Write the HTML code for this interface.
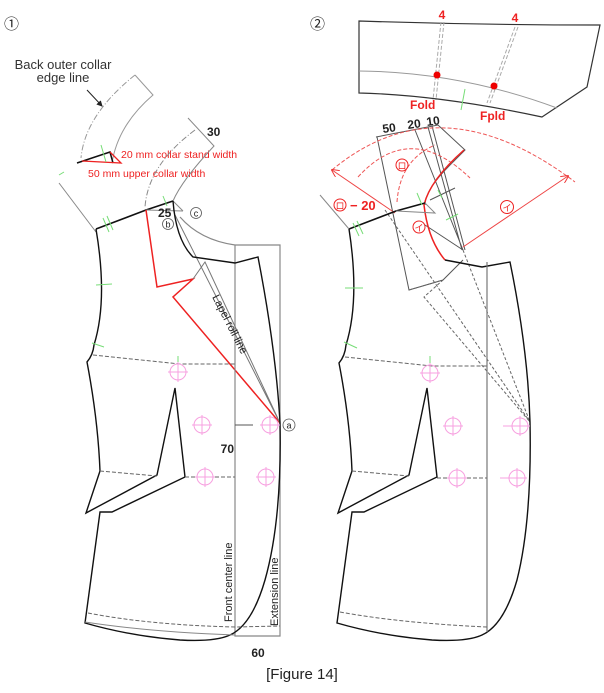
<!DOCTYPE html>
<html><head><meta charset="utf-8"><style>
html,body{margin:0;padding:0;background:#fff;}
svg{display:block;font-family:"Liberation Sans","Noto Sans CJK JP",sans-serif;}
</style></head><body>
<svg width="604" height="693" viewBox="0 0 604 693" xmlns="http://www.w3.org/2000/svg">
<defs>
<marker id="ah" markerWidth="8" markerHeight="8" refX="7" refY="4" orient="auto"><path d="M0,0 L8,4 L0,8" fill="none" stroke="#e33" stroke-width="1"/></marker>
<marker id="ab" markerWidth="6" markerHeight="6" refX="5" refY="3" orient="auto"><path d="M0,0 L6,3 L0,6z" fill="#222"/></marker>
<g id="btn"><circle r="8" fill="none" stroke="#f7a0e0" stroke-width="1"/><path d="M-10,0H10M0,-10V10" stroke="#f7a0e0" stroke-width="1"/></g>
</defs>
<!-- ===== FIGURE 1 ===== -->
<text x="4" y="29" font-size="15" fill="#222">①</text>
<text x="63" y="69" font-size="13" fill="#333" text-anchor="middle">Back outer collar</text>
<text x="63" y="82" font-size="13" fill="#333" text-anchor="middle">edge line</text>
<path d="M87,90 L102,106" stroke="#222" stroke-width="1" marker-end="url(#ab)"/>
<!-- back collar -->
<path d="M135,75 L153,95 Q118,125 112,163" fill="none" stroke="#999" stroke-width="1"/>
<path d="M135,75 Q85,115 81,158" fill="none" stroke="#999" stroke-width="1" stroke-dasharray="6,2,1,2"/>
<path d="M77,163 L110,152 L113,163" fill="none" stroke="#111" stroke-width="1.5"/>
<path d="M82,161 L121,163 L110,152" fill="none" stroke="#e22" stroke-width="1.3"/>
<text x="121" y="158" font-size="10.5" fill="#e22">20 mm collar stand width</text>
<text x="88" y="177" font-size="10.5" fill="#e22">50 mm upper collar width</text>
<path d="M101,145 L106,162" stroke="#7d7" stroke-width="1"/>
<path d="M59,175 L64,172" stroke="#7d7" stroke-width="1"/>
<path d="M59,183 L96,232" stroke="#888" stroke-width="1"/>
<!-- front collar / lapel -->
<path d="M188,118 L214,146 Q182,180 173,201" fill="none" stroke="#888" stroke-width="1"/>
<path d="M195,130 Q148,165 145,207" fill="none" stroke="#888" stroke-width="1" stroke-dasharray="6,2,1,2"/>
<text x="207" y="136" font-size="12" font-weight="bold" fill="#222">30</text>
<path d="M96,229 L146,210 L173,201" fill="none" stroke="#111" stroke-width="1.6"/>
<path d="M146,210 L183,211 M173,201 L183,211" fill="none" stroke="#888" stroke-width="1"/>
<path d="M103,218 L109,232 M107,216 L113,230" stroke="#7d7" stroke-width="1"/>
<path d="M163,196 L167,206" stroke="#7d7" stroke-width="1"/>
<text x="158" y="217" font-size="12" font-weight="bold" fill="#222">25</text>
<circle cx="168" cy="224" r="5.5" fill="#fff" stroke="#555" stroke-width="0.8"/><text x="168" y="227.5" font-size="9" text-anchor="middle" fill="#222">b</text>
<circle cx="196" cy="213" r="5.5" fill="#fff" stroke="#555" stroke-width="0.8"/><text x="196" y="216.5" font-size="9" text-anchor="middle" fill="#222">c</text>
<path d="M146,210 L157,287 L193,279 L173,297 L280,423" fill="none" stroke="#e22" stroke-width="1.5"/>
<path d="M180,217 Q200,240 235,245 L280,245 L280,636 L235,636 L235,245" fill="none" stroke="#888" stroke-width="1.2"/>
<path d="M175,215 L280,423 M193,279 L205,262 L280,423" fill="none" stroke="#777" stroke-width="1"/>
<text transform="translate(212,297) rotate(63)" font-size="11" fill="#222">Lapel roll line</text>
<!-- body -->
<path d="M173,201 Q176,240 193,257 L235,263 L258,257 Q276,350 280,423 Q282,520 265,580 Q252,625 230,635 Q215,642 180,640 Q130,636 85,623 L100,512 L112,512 L185,477 L175,388 L157,475 L86,513 L100,471 Q98,420 87,362 Q93,355 94,345 Q108,300 96,229" fill="none" stroke="#111" stroke-width="1.4"/>
<path d="M93,355 L180,364 L235,364 M100,471 L157,476 M185,477 L235,477 M88,613 Q150,625 235,627 L280,626" fill="none" stroke="#666" stroke-width="1" stroke-dasharray="4,2"/>
<path d="M85,622 Q150,632 235,635" fill="none" stroke="#888" stroke-width="1"/>
<path d="M96,285 L112,284 M92,343 L104,347 M178,356 L178,372" stroke="#7d7" stroke-width="1"/>
<use href="#btn" x="178" y="372"/><use href="#btn" x="202" y="425"/><use href="#btn" x="270" y="425"/><use href="#btn" x="205" y="477"/><use href="#btn" x="266" y="477"/>
<path d="M235,425 L253,425" stroke="#555" stroke-width="1"/>
<text x="234" y="453" font-size="12" font-weight="bold" fill="#222" text-anchor="end">70</text>
<circle cx="289" cy="425" r="6" fill="#fff" stroke="#555" stroke-width="0.8"/><text x="289" y="428.5" font-size="9" text-anchor="middle" fill="#222">a</text>
<text x="258" y="657" font-size="12" font-weight="bold" fill="#222" text-anchor="middle">60</text>
<text transform="translate(232,622) rotate(-90)" font-size="11" fill="#222">Front center line</text>
<text transform="translate(278,626) rotate(-90)" font-size="11" fill="#222">Extension line</text>

<!-- ===== FIGURE 2 ===== -->
<text x="310" y="29" font-size="15" fill="#222">②</text>
<path d="M359,21 Q480,25 600,25 L587,87 L542,117 Q440,95 359,93 Z" fill="none" stroke="#333" stroke-width="1.2"/>
<path d="M359,71 Q460,72 557,108" fill="none" stroke="#999" stroke-width="1"/>
<path d="M441,22 L433,100 M444,22 L436,100 M515,27 L487,103 M518,27 L490,103" stroke="#aaa" stroke-width="1" stroke-dasharray="4,2"/>
<circle cx="437" cy="75" r="3.5" fill="#e00"/><circle cx="494" cy="86" r="3.5" fill="#e00"/>
<text x="442" y="19" font-size="12" font-weight="bold" fill="#e22" text-anchor="middle">4</text>
<text x="515" y="22" font-size="12" font-weight="bold" fill="#e22" text-anchor="middle">4</text>
<text x="410" y="109" font-size="12" font-weight="bold" fill="#e22">Fold</text>
<text x="480" y="120" font-size="12" font-weight="bold" fill="#e22">Fpld</text>
<path d="M465,89 L461,110" stroke="#7d7" stroke-width="1"/>
<text x="383" y="133" font-size="12" font-weight="bold" fill="#222" transform="rotate(-8 383 133)">50</text>
<text x="408" y="129" font-size="12" font-weight="bold" fill="#222" transform="rotate(-8 408 129)">20</text>
<text x="427" y="126" font-size="12" font-weight="bold" fill="#222" transform="rotate(-8 427 126)">10</text>
<!-- collar construction lines -->
<path d="M376,137 L438,125 L465,150 L450,165 Q425,190 425,205" fill="none" stroke="#555" stroke-width="1"/>
<path d="M377,137 L409,290 L443,280 L463,260 M415,130 L463,250 M428,127 L462,250 M432,126 L465,250" fill="none" stroke="#555" stroke-width="1"/>
<path d="M425,225 L463,250 M430,200 L455,188" fill="none" stroke="#555" stroke-width="1"/>
<path d="M409,290 L443,280 L424,297 L530,422 M463,250 L530,422 M385,210 L530,422" fill="none" stroke="#666" stroke-width="1" stroke-dasharray="3,2"/>
<!-- red arcs -->
<path d="M332,170 Q440,80 575,182" fill="none" stroke="#e55" stroke-width="1" stroke-dasharray="4,2"/>
<path d="M358,177 Q410,120 470,178" fill="none" stroke="#e55" stroke-width="1" stroke-dasharray="4,2"/>
<path d="M397,202 Q400,160 435,145" fill="none" stroke="#e55" stroke-width="1" stroke-dasharray="4,2"/>
<path d="M395,213 L332,170" stroke="#e44" stroke-width="1" marker-end="url(#ah)"/>
<path d="M463,247 L568,176" stroke="#e44" stroke-width="1" marker-end="url(#ah)"/>
<path d="M464,150 Q430,180 424,205 Q428,240 445,260" fill="none" stroke="#e22" stroke-width="1.5"/>
<circle cx="402" cy="165" r="6" fill="#fff" stroke="#e22"/><text x="402" y="169" font-size="9" fill="#e22" text-anchor="middle">ロ</text>
<circle cx="340" cy="205" r="6" fill="#fff" stroke="#e22"/><text x="340" y="209" font-size="9" fill="#e22" text-anchor="middle">ロ</text>
<text x="350" y="210" font-size="13" font-weight="bold" fill="#e22">− 20</text>
<circle cx="419" cy="227" r="6" fill="#fff" stroke="#e22"/><text x="419" y="231" font-size="9" fill="#e22" text-anchor="middle">イ</text>
<circle cx="507" cy="207" r="6.5" fill="#fff" stroke="#e22"/><text x="507" y="211" font-size="9" fill="#e22" text-anchor="middle">イ</text>
<!-- body right -->
<path d="M349,229 L396,211 L425,203" fill="none" stroke="#111" stroke-width="1.6"/>
<path d="M396,211 L435,213 L425,203" fill="none" stroke="#888" stroke-width="1"/>
<path d="M320,195 L349,229" stroke="#888" stroke-width="1"/>
<path d="M445,260 L482,267 L510,262 Q528,350 530,422 Q532,520 517,580 Q504,625 482,635 Q467,642 432,640 Q382,636 337,623 L352,512 L364,512 L437,477 L427,388 L409,475 L338,513 L352,471 Q350,420 339,363 Q345,356 346,345 Q360,300 349,229" fill="none" stroke="#111" stroke-width="1.4"/>
<path d="M487,262 L487,632" stroke="#777" stroke-width="1.2"/>
<path d="M345,357 L432,366 L487,366 M352,471 L409,476 M437,478 L487,478 M340,612 Q400,623 487,627" fill="none" stroke="#666" stroke-width="1" stroke-dasharray="4,2"/>
<path d="M353,223 L359,236 M357,221 L363,234 M345,288 L363,288 M344,342 L357,348 M430,356 L430,373 M446,220 L458,214 M417,193 L422,205 M438,190 L442,198" stroke="#7d7" stroke-width="1"/>
<use href="#btn" x="430" y="373"/><use href="#btn" x="453" y="426"/><use href="#btn" x="520" y="426"/><use href="#btn" x="457" y="478"/><use href="#btn" x="517" y="478"/>
<path d="M503,426 L512,426 M500,478 L508,478" stroke="#f7a0e0" stroke-width="1"/>

<text x="302" y="679" font-size="15" fill="#222" text-anchor="middle">[Figure 14]</text>
</svg>
</body></html>
